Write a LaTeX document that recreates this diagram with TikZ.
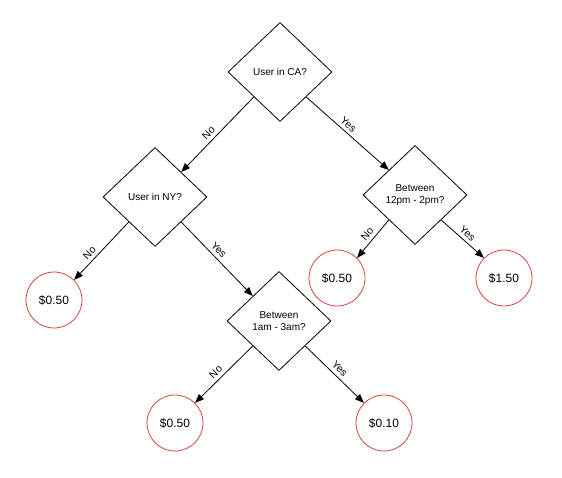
\documentclass[tikz,border=0pt]{standalone}
\usepackage{fontspec}
\setmainfont{Liberation Sans}
\usetikzlibrary{shapes.geometric,arrows.meta}
\definecolor{leafred}{RGB}{212,70,60}
\tikzset{
	decision/.style={diamond, draw=black, line width=0.8pt, inner sep=0pt,
		minimum width=104pt, minimum height=99pt, align=center,
		font=\fontsize{10}{12.5}\selectfont},
	price/.style={circle, draw=leafred, line width=0.8pt, inner sep=0pt,
		minimum size=56pt, font=\fontsize{12}{14}\selectfont},
	branch/.style={draw=black, line width=0.8pt, -{Triangle[length=9pt,width=7pt]}},
	answer/.style={sloped, above, inner sep=3.5pt, font=\fontsize{10.5}{12}\selectfont}
}
\def\Branch#1#2#3#4{%
	\draw[branch] (#1) -- node[answer, pos=#4] {#3} (#2);
}

\begin{document}
\begin{tikzpicture}[x=1pt, y=1pt]
\useasboundingbox (0,0) rectangle (562,-478);
\node[decision] (CA) at (280,-72) {User in CA?};
\node[decision] (NY) at (155,-197) {User in NY?};
\node[decision] (Noon) at (415,-195) {Between\\12pm - 2pm?};
\node[decision] (Night) at (279,-321) {Between\\1am - 3am?};
\node[price] (NYno) at (54,-300) {\$0.50};
\node[price] (Noonno) at (337,-278) {\$0.50};
\node[price] (Noonyes) at (504,-278) {\$1.50};
\node[price] (Nightno) at (175,-423) {\$0.50};
\node[price] (Nightyes) at (384,-423) {\$0.10};
\Branch{CA.south west}{NY.north east}{No}{0.55}
\Branch{CA.south east}{Noon.north west}{Yes}{0.45}
\Branch{NY.south west}{NYno.north east}{No}{0.62}
\Branch{NY.south east}{Night.north west}{Yes}{0.45}
\Branch{Noon.south west}{Noonno.north east}{No}{0.5}
\Branch{Noon.south east}{Noonyes.north west}{Yes}{0.5}
\Branch{Night.south west}{Nightno.north east}{No}{0.55}
\Branch{Night.south east}{Nightyes.north west}{Yes}{0.5}
\end{tikzpicture}
\end{document}
